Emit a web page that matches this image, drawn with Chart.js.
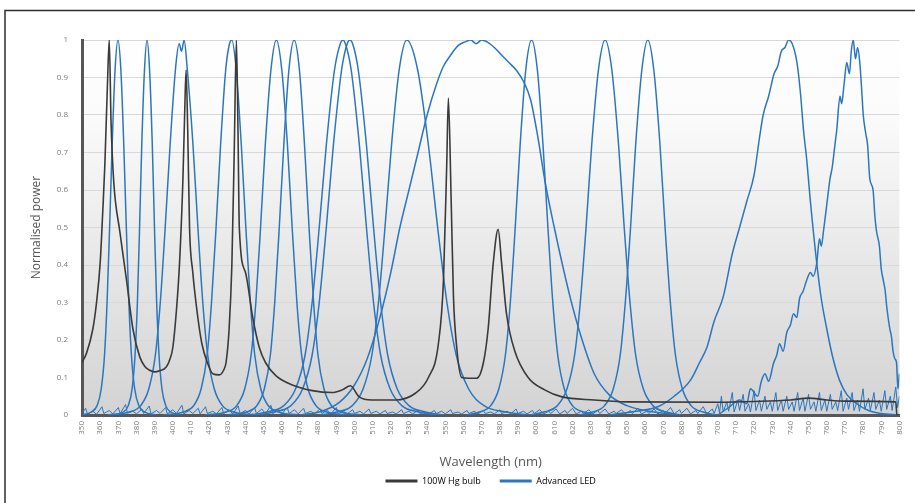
<!DOCTYPE html>
<html>
<head>
<meta charset="utf-8">
<script src="https://cdn.jsdelivr.net/npm/chart.js@4.4.1/dist/chart.umd.min.js"></script>
<style>
  html, body { margin: 0; padding: 0; background: #fff; }
  #wrap { width: 915px; height: 503px; }
</style>
</head>
<body>
<div id="wrap"><canvas id="spectra" width="915" height="503"></canvas></div>
<script>
// axis ranges / tick labels
const wavelengthRange = [350, 800];
const wavelengthStep = 10;
const powerTicks = ['0', '0.1', '0.2', '0.3', '0.4', '0.5', '0.6', '0.7', '0.8', '0.9', '1'];

// 100W Hg bulb, [nm, normalised power]
const hgBulb = [[350,0.14],[352.5,0.165],[356,0.23],[358,0.3],[360,0.405],[361.5,0.55],[362.6,0.67],[364,0.88],[365,1],[366,0.78],[367.5,0.62],[370.8,0.49],[374.5,0.36],[378,0.23],[381.8,0.155],[384.5,0.13],[387,0.12],[390,0.115],[392.7,0.118],[396.4,0.128],[398.5,0.15],[400,0.18],[402,0.28],[403.7,0.405],[405.5,0.62],[406.5,0.8],[407.3,0.92],[408.2,0.76],[409.2,0.5],[411,0.38],[413.5,0.27],[416,0.19],[419,0.14],[422,0.11],[425.6,0.107],[428,0.12],[429.3,0.14],[431,0.23],[432.5,0.4],[433.8,0.7],[435,1],[435.9,0.75],[436.6,0.5],[440,0.38],[444,0.26],[447.6,0.18],[451,0.14],[456.7,0.105],[465.8,0.08],[476.8,0.065],[487.7,0.06],[493.2,0.067],[497.8,0.078],[502.4,0.049],[509.7,0.04],[522.5,0.04],[533.5,0.058],[540.7,0.1],[546.2,0.19],[549,0.36],[550.8,0.67],[551.7,0.845],[553.2,0.58],[554.5,0.315],[556.3,0.18],[559,0.1],[562.7,0.098],[567.3,0.098],[571,0.14],[573.6,0.23],[576.4,0.405],[579.1,0.495],[581,0.405],[583.7,0.27],[588.3,0.17],[595.6,0.1],[604.7,0.067],[613.8,0.049],[632,0.04],[650,0.035],[700,0.034],[720,0.036],[740,0.04],[750,0.045],[760,0.04],[770,0.037],[798,0.035],[798.6,0],[800,0]];

// Advanced LED channels, one array per LED
const led370 = [[350,0],[355.1,0.008],[358.3,0.025],[360.6,0.07],[362.4,0.16],[363.8,0.3],[365.2,0.5],[366.6,0.72],[368.2,0.92],[369.8,1],[371.4,0.92],[373,0.72],[374.4,0.5],[375.8,0.3],[377.2,0.16],[379,0.07],[381.3,0.025],[384.5,0.008],[390.5,0]];
const led386 = [[367.3,0],[372.7,0.008],[375.5,0.025],[377.6,0.07],[379.2,0.16],[380.5,0.3],[381.7,0.5],[382.9,0.72],[384.4,0.92],[385.8,1],[387.2,0.92],[388.7,0.72],[389.9,0.5],[391.1,0.3],[392.4,0.16],[394,0.07],[396.1,0.025],[398.9,0.008],[404.3,0]];
const led405 = [[364.3,0],[376,0.008],[382.3,0.025],[386.8,0.07],[390.4,0.16],[393.1,0.3],[395.8,0.5],[398.5,0.72],[401.6,0.93],[403.5,0.99],[404.8,0.97],[406.2,1],[408,0.92],[411.1,0.72],[413.8,0.5],[416.5,0.3],[419.2,0.16],[422.8,0.07],[427.3,0.025],[433.6,0.008],[445.3,0]];
const led432 = [[395.1,0],[405.8,0.008],[411.5,0.025],[415.6,0.07],[418.9,0.16],[421.3,0.3],[423.8,0.5],[426.3,0.72],[429.1,0.92],[431.2,0.99],[432.5,1],[434.9,0.92],[437.7,0.72],[440.2,0.5],[442.7,0.3],[445.1,0.16],[448.4,0.07],[452.5,0.025],[458.2,0.008],[468.9,0]];
const led457 = [[417.8,0],[429.2,0.008],[435.2,0.025],[439.6,0.07],[443.1,0.16],[445.7,0.3],[448.3,0.5],[450.9,0.72],[454,0.92],[457,1],[460,0.92],[463.1,0.72],[465.7,0.5],[468.3,0.3],[470.9,0.16],[474.4,0.07],[478.8,0.025],[484.8,0.008],[496.2,0]];
const led467 = [[429.9,0],[440.6,0.008],[446.3,0.025],[450.4,0.07],[453.7,0.16],[456.1,0.3],[458.6,0.5],[461.1,0.72],[463.9,0.92],[466.8,1],[469.7,0.92],[472.5,0.72],[475,0.5],[477.5,0.3],[479.9,0.16],[483.2,0.07],[487.3,0.025],[493,0.008],[503.7,0]];
const led493 = [[441.6,0],[452,0.008],[461.1,0.025],[467.6,0.07],[472.8,0.16],[476.7,0.3],[480.6,0.5],[484.5,0.72],[489,0.92],[492.2,0.99],[493.6,1],[495,0.99],[498.2,0.92],[502.7,0.72],[506.6,0.5],[510.5,0.3],[514.4,0.16],[519.6,0.07],[526.1,0.025],[535.2,0.008],[545.6,0]];
const led498 = [[445.5,0],[455.9,0.008],[465,0.025],[471.5,0.07],[476.7,0.16],[480.6,0.3],[484.5,0.5],[488.4,0.72],[492.9,0.92],[496,0.99],[497.5,1],[499,0.99],[502.1,0.92],[506.6,0.72],[510.5,0.5],[514.4,0.3],[518.3,0.16],[523.5,0.07],[530,0.025],[539.1,0.008],[549.5,0]];
const led529 = [[480.8,0],[490.4,0.008],[498.8,0.025],[504.8,0.07],[509.6,0.16],[513.2,0.3],[516.8,0.5],[520.4,0.72],[524.6,0.92],[528.8,1],[534.8,0.92],[540.7,0.72],[545.8,0.5],[550.9,0.3],[556,0.16],[562.8,0.07],[571.3,0.025],[583.2,0.008],[596.8,0]];
const led568 = [[470,0],[482,0.01],[492,0.035],[500,0.08],[507,0.15],[514,0.26],[520,0.38],[525,0.5],[530,0.6],[535,0.7],[540,0.8],[545,0.88],[549,0.93],[553,0.96],[557,0.985],[561,0.995],[564,1],[567,0.99],[570,1],[573,0.995],[577,0.98],[581,0.96],[585,0.94],[589,0.92],[593,0.89],[597,0.84],[601,0.74],[605,0.62],[610,0.5],[615,0.39],[620,0.29],[626,0.19],[632,0.11],[640,0.055],[650,0.025],[665,0.008],[680,0]];
const led597 = [[561.5,0],[568.7,0.008],[575,0.025],[579.5,0.07],[583.1,0.16],[585.8,0.3],[588.5,0.5],[591.2,0.72],[594.3,0.92],[597.5,1],[600.7,0.92],[603.8,0.72],[606.5,0.5],[609.2,0.3],[611.9,0.16],[615.5,0.07],[620,0.025],[626.3,0.008],[633.5,0]];
const led638 = [[596,0],[604.4,0.008],[611.7,0.025],[617,0.07],[621.2,0.16],[624.3,0.3],[627.5,0.5],[630.6,0.72],[634.3,0.92],[638,1],[641.7,0.92],[645.4,0.72],[648.5,0.5],[651.7,0.3],[654.8,0.16],[659,0.07],[664.3,0.025],[671.6,0.008],[680,0]];
const led661 = [[623.5,0],[631.1,0.008],[637.7,0.025],[642.5,0.07],[646.3,0.16],[649.1,0.3],[652,0.5],[654.8,0.72],[658.2,0.92],[661.5,1],[664.8,0.92],[668.2,0.72],[671,0.5],[673.9,0.3],[676.7,0.16],[680.5,0.07],[685.3,0.025],[691.9,0.008],[699.5,0]];
const led739 = [[640,0],[655,0.01],[667,0.022],[676,0.05],[685,0.093],[690,0.14],[694,0.18],[698,0.25],[703,0.315],[708,0.43],[712,0.5],[716,0.57],[720,0.64],[723,0.74],[725,0.8],[728,0.85],[731,0.91],[733,0.93],[735,0.97],[737,0.98],[739,1],[741,0.99],[743.6,0.94],[745.5,0.86],[747.2,0.76],[749,0.68],[750.8,0.58],[754.5,0.405],[757,0.31],[760,0.23],[763,0.16],[767,0.093],[771,0.055],[776.5,0.03],[783,0.012],[790,0.004],[800,0]];
const led775 = [[700,0],[706,0.02],[712,0.04],[716,0.03],[718,0.07],[722,0.05],[724,0.09],[726,0.11],[728,0.09],[730.7,0.138],[732.5,0.16],[734,0.19],[736,0.17],[738,0.22],[740,0.24],[741.7,0.27],[743.5,0.26],[745,0.31],[747,0.33],[749,0.36],[751,0.38],[752.5,0.37],[754.5,0.405],[756,0.47],[757,0.45],[758.2,0.49],[760,0.56],[761.8,0.63],[763,0.66],[764.5,0.72],[765.5,0.76],[767.3,0.85],[768.2,0.83],[769.5,0.88],[771,0.94],[772.5,0.91],[773.5,0.97],[774.6,1],[775.8,0.95],[777,0.98],[778.2,0.94],[779.2,0.87],[780.1,0.8],[781.5,0.75],[782.5,0.72],[783.7,0.63],[785.5,0.6],[786.5,0.53],[787.4,0.49],[789,0.45],[790,0.39],[791.1,0.36],[792.2,0.33],[793,0.29],[794.7,0.23],[795.6,0.21],[796.5,0.17],[797.5,0.15],[798.4,0.14],[799.2,0.07],[800,0.11]];

// LED baseline noise along the bottom (spiky, bigger above 700 nm)
const ledNoise = [[350,0.004],[352,0.018],[353,0.003],[356,0.01],[358,0.002],[361,0.022],[362,0.004],[365,0.012],[367,0.003],[370,0.02],[371,0.004],[374,0.028],[375,0.005],[378,0.01],[380,0.003],[383,0.016],[384,0.004],[387,0.024],[388,0.003],[391,0.012],[393,0.004],[396,0.02],[397,0.003],[400,0.014],[402,0.004],[405,0.026],[406,0.003],[409,0.012],[411,0.004],[414,0.018],[415,0.003],[418,0.022],[419,0.004],[422,0.01],[424,0.003],[427,0.02],[428,0.004],[431,0.014],[433,0.003],[436,0.024],[437,0.004],[440,0.012],[442,0.003],[445,0.02],[446,0.004],[449,0.016],[451,0.003],[454,0.026],[455,0.004],[458,0.012],[460,0.003],[463,0.02],[464,0.004],[467,0.014],[469,0.003],[472,0.018],[473,0.004],[476,0.01],[478,0.003],[481,0.016],[482,0.004],[485,0.012],[487,0.003],[490,0.02],[491,0.004],[494,0.01],[496,0.003],[499,0.014],[500,0.004],[503,0.01],[505,0.003],[508,0.016],[509,0.004],[512,0.01],[514,0.003],[517,0.012],[518,0.004],[521,0.008],[523,0.003],[526,0.014],[527,0.004],[530,0.01],[532,0.003],[535,0.012],[536,0.004],[539,0.008],[541,0.003],[544,0.012],[545,0.004],[548,0.01],[550,0.003],[553,0.014],[554,0.004],[557,0.008],[559,0.003],[562,0.012],[563,0.004],[566,0.01],[568,0.003],[571,0.012],[572,0.004],[575,0.008],[577,0.003],[580,0.014],[581,0.004],[584,0.01],[586,0.003],[589,0.016],[590,0.004],[593,0.01],[595,0.003],[598,0.012],[599,0.004],[602,0.014],[604,0.003],[607,0.01],[608,0.004],[611,0.016],[613,0.003],[616,0.012],[617,0.004],[620,0.018],[622,0.003],[625,0.01],[626,0.004],[629,0.014],[631,0.003],[634,0.012],[635,0.004],[638,0.016],[640,0.003],[643,0.01],[644,0.004],[647,0.014],[649,0.003],[652,0.012],[653,0.004],[656,0.018],[658,0.003],[661,0.01],[662,0.004],[665,0.016],[667,0.003],[670,0.012],[671,0.004],[674,0.02],[676,0.003],[679,0.014],[680,0.004],[683,0.018],[685,0.003],[688,0.012],[689,0.004],[692,0.022],[694,0.003],[697,0.016],[698,0.004],
  [700,0.03],[701,0.006],[702,0.05],[703,0.008],[705,0.035],[706,0.01],[708,0.06],[709,0.008],[711,0.04],[712,0.012],[714,0.055],[715,0.01],[717,0.03],[718,0.008],[720,0.065],[721,0.012],[723,0.04],[724,0.01],[726,0.05],[727,0.015],[729,0.035],[730,0.01],[732,0.06],[733,0.012],[735,0.04],[736,0.01],[738,0.05],[739,0.015],[741,0.035],[742,0.01],[744,0.06],[745,0.012],[747,0.045],[748,0.01],[750,0.055],[751,0.015],[753,0.035],[754,0.01],[756,0.06],[757,0.012],[759,0.04],[760,0.01],[762,0.055],[763,0.015],[765,0.035],[766,0.012],[768,0.065],[769,0.01],[771,0.045],[772,0.015],[774,0.06],[775,0.012],[777,0.04],[778,0.01],[780,0.07],[781,0.015],[783,0.045],[784,0.012],[786,0.06],[787,0.015],[789,0.04],[790,0.01],[792,0.065],[793,0.015],[795,0.05],[796,0.012],[798,0.075],[799,0.02],[800,0.05]];

const ledChannels = [led370, led386, led405, led432, led457, led467, led493, led498, led529, led568, led597, led638, led661, led739, led775];

const HG_COLOR = '#3a3a3a';
const LED_COLOR = '#2a76bf';
const FONT = "'Open Sans', 'DejaVu Sans', sans-serif";

// grey gradient behind the plot + the cropped outer frame
const plotBackground = {
  id: 'plotBackground',
  beforeDraw(chart) {
    const { ctx, chartArea: a } = chart;
    ctx.save();
    ctx.strokeStyle = '#2e2e2e';
    ctx.lineWidth = 1.5;
    ctx.beginPath();
    ctx.moveTo(5, 503);
    ctx.lineTo(5, 10.5);
    ctx.lineTo(915, 10.5);
    ctx.stroke();
    const g = ctx.createLinearGradient(0, a.top, 0, a.bottom);
    g.addColorStop(0, '#ffffff');
    g.addColorStop(0.2, '#fbfbfb');
    g.addColorStop(1, '#d3d3d3');
    ctx.fillStyle = g;
    ctx.fillRect(a.left, a.top, a.width, a.height);
    ctx.restore();
  }
};

const datasets = [
  { label: '100W Hg bulb', data: hgBulb, borderColor: HG_COLOR, borderWidth: 1.6, cubicInterpolationMode: 'monotone' }
];
ledChannels.forEach(ch => {
  datasets.push({ label: 'Advanced LED', data: ch, borderColor: LED_COLOR, borderWidth: 1.5, cubicInterpolationMode: 'monotone' });
});
datasets.push({ label: 'Advanced LED', data: ledNoise, borderColor: LED_COLOR, borderWidth: 1, tension: 0 });

new Chart(document.getElementById('spectra'), {
  type: 'line',
  data: { datasets: datasets },
  plugins: [plotBackground],
  options: {
    responsive: false,
    animation: false,
    devicePixelRatio: 1,
    elements: { point: { radius: 0 } },
    layout: { padding: { left: 20, right: 12, top: 40, bottom: 7.5 } },
    plugins: {
      tooltip: { enabled: false },
      legend: {
        position: 'bottom',
        fullSize: false,
        onClick: null,
        labels: {
          font: { family: FONT, size: 9 },
          color: '#666',
          boxWidth: 32,
          boxHeight: 3,
          padding: 19,
          generateLabels: () => [
            { text: '100W Hg bulb', fillStyle: HG_COLOR, strokeStyle: HG_COLOR, lineWidth: 0, hidden: false, datasetIndex: 0 },
            { text: 'Advanced LED', fillStyle: LED_COLOR, strokeStyle: LED_COLOR, lineWidth: 0, hidden: false, datasetIndex: 1 }
          ]
        }
      }
    },
    scales: {
      x: {
        type: 'linear',
        min: wavelengthRange[0],
        max: wavelengthRange[1],
        afterFit: s => { s.height = 42.5; },
        grid: { display: false, drawTicks: false },
        border: { color: '#575757', width: 3 },
        ticks: {
          stepSize: wavelengthStep,
          autoSkip: false,
          minRotation: 90,
          maxRotation: 90,
          padding: 6,
          color: '#7a7a7a',
          font: { family: FONT, size: 8 }
        },
        title: {
          display: true,
          text: 'Wavelength (nm)',
          color: '#555',
          font: { family: FONT, size: 13 },
          padding: { top: 0, bottom: -13 }
        }
      },
      y: {
        min: 0,
        max: 1,
        afterFit: s => { s.width = 62; },
        grid: { color: '#d8d8d8', lineWidth: 1, drawTicks: false },
        border: { color: '#575757', width: 3 },
        ticks: {
          stepSize: 0.1,
          padding: 14,
          color: '#7a7a7a',
          font: { family: FONT, size: 8 },
          callback: (v, i) => powerTicks[i]
        },
        title: {
          display: true,
          text: 'Normalised power',
          color: '#555',
          font: { family: FONT, size: 12 },
          padding: { top: 9, bottom: 0 }
        }
      }
    }
  }
});
</script>
</body>
</html>
